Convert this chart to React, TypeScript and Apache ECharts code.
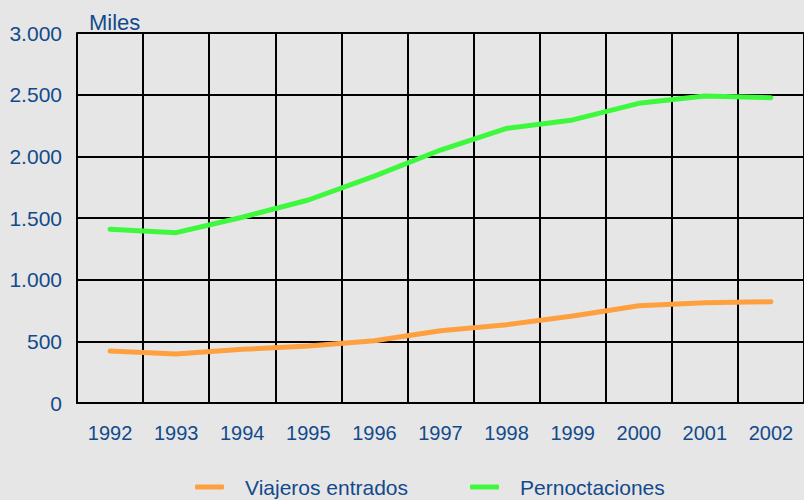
import React, { useEffect, useRef } from "react";
import * as echarts from "echarts";

const years = ["1992", "1993", "1994", "1995", "1996", "1997", "1998", "1999", "2000", "2001", "2002"];
const viajeros = [421, 397, 435, 462, 505, 586, 635, 705, 789, 813, 821];
const pernoctaciones = [1408, 1381, 1506, 1646, 1840, 2051, 2227, 2295, 2430, 2490, 2476];
const yTicks = { min: 0, max: 3000, interval: 500 };

const TEXT = "#124a8c";
const ORANGE = "#ffa040";
const GREEN = "#3ef83e";
const FONT = "Liberation Sans, Arial, sans-serif";

function fmt(v: number): string {
  const s = String(Math.round(v));
  return s.replace(/\B(?=(\d{3})+(?!\d))/g, ".");
}

export default function App() {
  const ref = useRef<HTMLDivElement>(null);
  useEffect(() => {
    if (!ref.current) return;
    const chart = echarts.init(ref.current, null, { renderer: "svg" });
    chart.setOption({
      animation: false,
      backgroundColor: "#e6e6e6",
      textStyle: { fontFamily: FONT },
      grid: { left: 77, top: 33, width: 733, height: 370, containLabel: false },
      graphic: [
        {
          type: "text",
          left: 89,
          top: 11,
          style: { text: "Miles", fontSize: 22, fill: TEXT, fontFamily: FONT },
        },
      ],
      legend: {
        left: 190,
        top: 471,
        itemGap: 62,
        itemWidth: 29,
        itemHeight: 5,
        icon: "roundRect",
        textStyle: { fontSize: 21, color: TEXT, padding: [0, 0, 0, 16], lineHeight: 22 },
        data: ["Viajeros entrados", "Pernoctaciones"],
      },
      xAxis: {
        type: "category",
        data: years,
        boundaryGap: true,
        axisLine: { show: true, lineStyle: { color: "#000", width: 2 } },
        axisTick: { show: false },
        axisLabel: { color: TEXT, fontSize: 20, margin: 20 },
        splitLine: { show: true, lineStyle: { color: "#000", width: 2 } },
      },
      yAxis: {
        type: "value",
        min: yTicks.min,
        max: yTicks.max,
        interval: yTicks.interval,
        axisLine: { show: true, lineStyle: { color: "#000", width: 2 } },
        axisTick: { show: false },
        axisLabel: { color: TEXT, fontSize: 21, margin: 15, formatter: (v: number) => fmt(v) },
        splitLine: { show: true, lineStyle: { color: "#000", width: 2 } },
      },
      series: [
        {
          name: "Viajeros entrados",
          type: "line",
          data: viajeros,
          symbol: "none",
          lineStyle: { color: ORANGE, width: 5, cap: "round", join: "round" },
          itemStyle: { color: ORANGE },
        },
        {
          name: "Pernoctaciones",
          type: "line",
          data: pernoctaciones,
          symbol: "none",
          lineStyle: { color: GREEN, width: 5, cap: "round", join: "round" },
          itemStyle: { color: GREEN },
        },
      ],
    });
    return () => chart.dispose();
  }, []);
  return (
    <div
      ref={ref}
      style={{ position: "absolute", left: 0, top: 0, width: 804, height: 500 }}
    />
  );
}
